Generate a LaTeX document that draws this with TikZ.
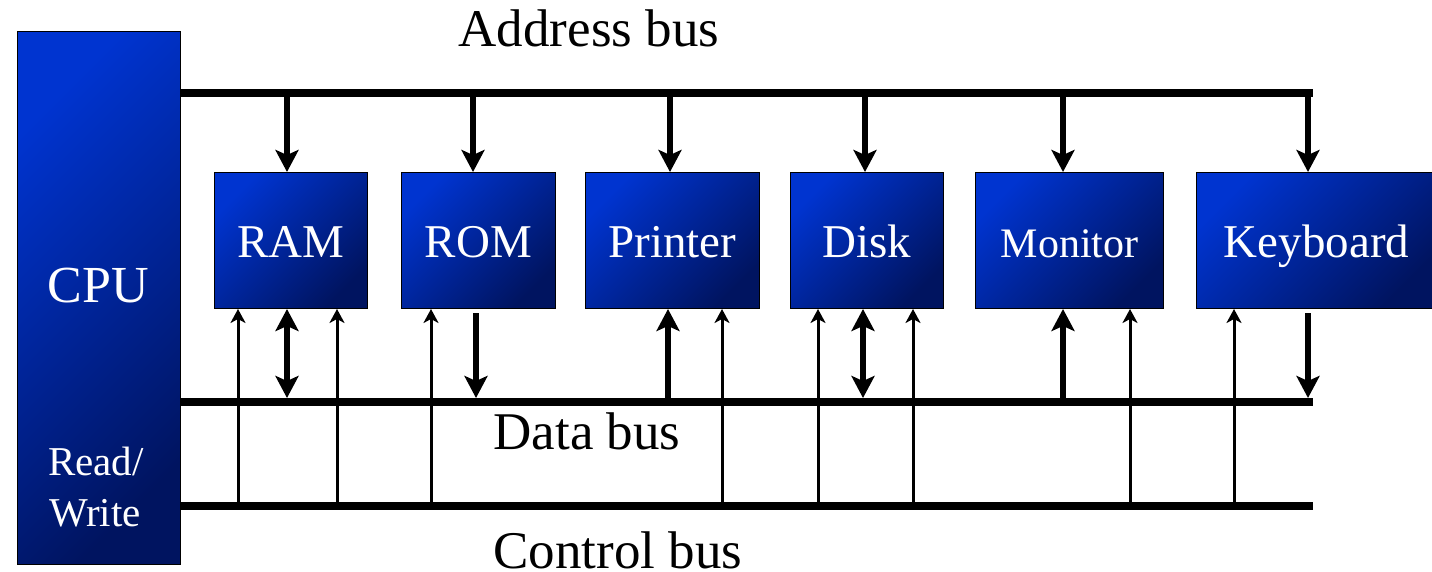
\documentclass[tikz,border=0pt]{standalone}
\usepackage{fontspec}
\setmainfont{Liberation Serif}
\usetikzlibrary{arrows.meta}

\definecolor{unitlight}{RGB}{0,52,208}
\definecolor{unitdark}{RGB}{0,20,96}

\tikzset{
  fathead/.tip={Stealth[length=22pt,width=23pt,inset=5pt]},
  thinhead/.tip={Stealth[length=14pt,width=15pt,inset=4pt]},
  unit/.style={draw=black, line width=1pt, top color=unitlight, bottom color=unitdark,
    shading angle=45, text=white, anchor=north west, inner sep=0pt,
    minimum height=136pt, text height=34pt, text depth=0pt,
    font=\fontsize{47}{50}\selectfont},
  buslabel/.style={anchor=base, inner sep=0pt, font=\fontsize{53}{58}\selectfont},
  bus/.style={line width=8pt},
  fat/.style={line width=6pt},
  wire/.style={line width=3pt, -{thinhead}}
}

\begin{document}
\begin{tikzpicture}[x=1pt,y=-1pt]
\useasboundingbox (0,0) rectangle (1432,572);

% CPU and the units
\node[unit, minimum width=163pt, minimum height=533pt] (cpu) at (17,31) {};
\node[text=white, anchor=base, font=\fontsize{52}{56}\selectfont] (cputext) at (98,302) {CPU};
\node[text=white, anchor=base, font=\fontsize{41}{45}\selectfont] (rdtext) at (96,475) {Read/};
\node[text=white, anchor=base, font=\fontsize{41}{45}\selectfont] (wrtext) at (95,526) {Write};

\node[unit, minimum width=153pt] (ram) at (214,172) {RAM};
\node[unit, minimum width=154pt] (rom) at (401,172) {ROM};
\node[unit, minimum width=174pt] (printer) at (585,172) {Printer};
\node[unit, minimum width=153pt] (disk) at (790,172) {Disk};
\node[unit, minimum width=188pt, font=\fontsize{42}{46}\selectfont] (monitor) at (975,172) {Monitor};
\node[unit, minimum width=240pt] (keyboard) at (1196,172) {Keyboard};

% buses
\coordinate (abus) at (0,93);
\coordinate (dbus) at (0,402);
\coordinate (cbus) at (0,506);
\coordinate (aend) at (1313,93);
\coordinate (dend) at (1313,402);
\coordinate (cend) at (1313,506);

\draw[bus] (cpu.east |- abus) -- (aend);
\draw[bus] (cpu.east |- dbus) -- (dend);
\draw[bus] (cpu.east |- cbus) -- (cend);

\node[buslabel] (alabel) at (589,47) {Address bus};
\node[buslabel] (dlabel) at (587,449) {Data bus};
\node[buslabel] (clabel) at (618,568) {Control bus};

% address bus to the units
\draw[fat, -{fathead}] (287,0 |- abus) -- (287,0 |- ram.north);
\draw[fat, -{fathead}] (473,0 |- abus) -- (473,0 |- rom.north);
\draw[fat, -{fathead}] (670,0 |- abus) -- (670,0 |- printer.north);
\draw[fat, -{fathead}] (865,0 |- abus) -- (865,0 |- disk.north);
\draw[fat, -{fathead}] (1063,0 |- abus) -- (1063,0 |- monitor.north);
\draw[fat, -{fathead}] (1308,0 |- abus) -- (1308,0 |- keyboard.north);

% data bus
\draw[fat, {fathead}-{fathead}, shorten >=4pt] (287,0 |- ram.south) -- (287,0 |- dbus);
\draw[fat, -{fathead}, shorten <=4pt, shorten >=4pt] (476,0 |- rom.south) -- (476,0 |- dbus);
\draw[fat, -{fathead}] (668,0 |- dbus) -- (668,0 |- printer.south);
\draw[fat, {fathead}-{fathead}, shorten >=4pt] (863,0 |- disk.south) -- (863,0 |- dbus);
\draw[fat, -{fathead}] (1063,0 |- dbus) -- (1063,0 |- monitor.south);
\draw[fat, -{fathead}, shorten <=4pt, shorten >=4pt] (1308,0 |- keyboard.south) -- (1308,0 |- dbus);

% control bus
\draw[wire] (238,0 |- cbus) -- (238,0 |- ram.south);
\draw[wire] (337,0 |- cbus) -- (337,0 |- ram.south);
\draw[wire] (431,0 |- cbus) -- (431,0 |- rom.south);
\draw[wire] (722,0 |- cbus) -- (722,0 |- printer.south);
\draw[wire] (818,0 |- cbus) -- (818,0 |- disk.south);
\draw[wire] (913,0 |- cbus) -- (913,0 |- disk.south);
\draw[wire] (1130,0 |- cbus) -- (1130,0 |- monitor.south);
\draw[wire] (1234,0 |- cbus) -- (1234,0 |- keyboard.south);
\end{tikzpicture}
\end{document}
